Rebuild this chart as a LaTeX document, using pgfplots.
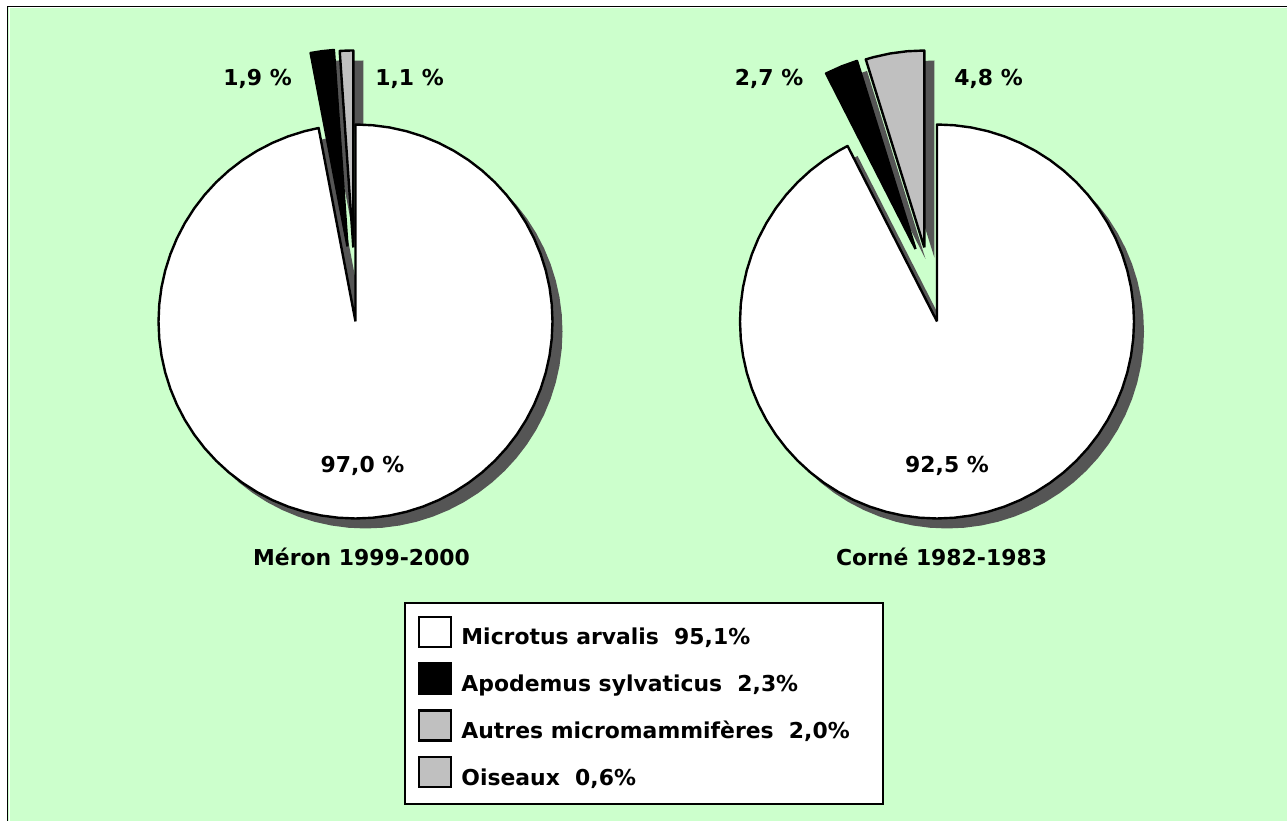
\documentclass[border=0pt]{standalone}
\usepackage{pgfplots}
\pgfplotsset{compat=1.18}
\usepackage{pgfplotstable}
\usepackage{fontspec}
\setmainfont{DejaVu Sans}
\definecolor{bgreen}{RGB}{204,255,204}
\definecolor{shad}{RGB}{85,85,85}
\definecolor{pgray}{RGB}{192,192,192}
\newcommand\lbl{\fontsize{21.9}{26}\selectfont\bfseries}

% Méron 1999-2000 : 97,0 % / 1,9 % / 1,1 %  (angles in degrees, radius 197)
\pgfplotstableread[row sep=\\]{a r\\ 0 0\\ 100.8 197\\ 105 197\\ 110 197\\ 115 197\\ 120 197\\ 125 197\\ 130 197\\ 135 197\\ 140 197\\ 145 197\\ 150 197\\ 155 197\\ 160 197\\ 165 197\\ 170 197\\ 175 197\\ 180 197\\ 185 197\\ 190 197\\ 195 197\\ 200 197\\ 205 197\\ 210 197\\ 215 197\\ 220 197\\ 225 197\\ 230 197\\ 235 197\\ 240 197\\ 245 197\\ 250 197\\ 255 197\\ 260 197\\ 265 197\\ 270 197\\ 275 197\\ 280 197\\ 285 197\\ 290 197\\ 295 197\\ 300 197\\ 305 197\\ 310 197\\ 315 197\\ 320 197\\ 325 197\\ 330 197\\ 335 197\\ 340 197\\ 345 197\\ 350 197\\ 355 197\\ 360 197\\ 365 197\\ 370 197\\ 375 197\\ 380 197\\ 385 197\\ 390 197\\ 395 197\\ 400 197\\ 405 197\\ 410 197\\ 415 197\\ 420 197\\ 425 197\\ 430 197\\ 435 197\\ 440 197\\ 445 197\\ 450 197\\ 0 0\\}\merW
\pgfplotstableread[row sep=\\]{a r\\ 0 0\\ 93.96 197\\ 97.4 197\\ 100.8 197\\ 0 0\\}\merB
\pgfplotstableread[row sep=\\]{a r\\ 0 0\\ 90 197\\ 92 197\\ 93.96 197\\ 0 0\\}\merG

% Corné 1982-1983 : 92,5 % / 2,7 % / 4,8 %
\pgfplotstableread[row sep=\\]{a r\\ 0 0\\ 117 197\\ 120 197\\ 125 197\\ 130 197\\ 135 197\\ 140 197\\ 145 197\\ 150 197\\ 155 197\\ 160 197\\ 165 197\\ 170 197\\ 175 197\\ 180 197\\ 185 197\\ 190 197\\ 195 197\\ 200 197\\ 205 197\\ 210 197\\ 215 197\\ 220 197\\ 225 197\\ 230 197\\ 235 197\\ 240 197\\ 245 197\\ 250 197\\ 255 197\\ 260 197\\ 265 197\\ 270 197\\ 275 197\\ 280 197\\ 285 197\\ 290 197\\ 295 197\\ 300 197\\ 305 197\\ 310 197\\ 315 197\\ 320 197\\ 325 197\\ 330 197\\ 335 197\\ 340 197\\ 345 197\\ 350 197\\ 355 197\\ 360 197\\ 365 197\\ 370 197\\ 375 197\\ 380 197\\ 385 197\\ 390 197\\ 395 197\\ 400 197\\ 405 197\\ 410 197\\ 415 197\\ 420 197\\ 425 197\\ 430 197\\ 435 197\\ 440 197\\ 445 197\\ 450 197\\ 0 0\\}\corW
\pgfplotstableread[row sep=\\]{a r\\ 0 0\\ 107.28 197\\ 112 197\\ 117 197\\ 0 0\\}\corB
\pgfplotstableread[row sep=\\]{a r\\ 0 0\\ 90 197\\ 95 197\\ 100 197\\ 105 197\\ 107.28 197\\ 0 0\\}\corG

\begin{document}
\begin{tikzpicture}
\path[use as bounding box] (0,0) rectangle (1287pt,820pt);
\draw[line width=1.3pt, fill=bgreen] (7.5pt,813.5pt) rectangle (1310pt,-20pt);
\draw[white, line width=1pt] (9pt,-20pt) -- (9pt,812.2pt) -- (1310pt,812.2pt);
\begin{axis}[
  at={(0pt,0pt)}, anchor=south west,
  width=1287pt, height=820pt, scale only axis,
  xmin=0, xmax=1287, ymin=0, ymax=820,
  hide axis, clip=false,
  legend image code/.code={\draw[#1, line width=2.3pt] (0pt,-13pt) rectangle (32pt,17pt);},
  legend cell align=left,
  legend style={at={(0.3139,0.2659)}, anchor=north west, draw=black, line width=2.3pt, fill=white,
    inner xsep=13pt, inner ysep=12.5pt, row sep=11.7pt, column sep=9pt, font=\lbl,
    nodes={inner sep=0pt, text height=28pt, text depth=6pt}},
  pie/.style={forget plot, data cs=polar, draw=black, line width=2.4pt, line join=round},
  sh/.style={forget plot, data cs=polar, fill=shad, draw=none},
]
% shadows (offset 10, -10)
\addplot[sh, shift={(365.5pt,488.5pt)}] table[x=a,y=r]{\merW};
\addplot[sh, shift={(357.5pt,563.5pt)}] table[x=a,y=r]{\merB};
\addplot[sh, shift={(363.3pt,562.5pt)}] table[x=a,y=r]{\merG};
\addplot[sh, shift={(947pt,488.5pt)}] table[x=a,y=r]{\corW};
\addplot[sh, shift={(925.5pt,561pt)}] table[x=a,y=r]{\corB};
\addplot[sh, shift={(934.3pt,562.5pt)}] table[x=a,y=r]{\corG};
% slices
\addplot[pie, fill=white, shift={(355.5pt,498.5pt)}] table[x=a,y=r]{\merW};
\addplot[pie, fill=black, shift={(347.5pt,573.5pt)}] table[x=a,y=r]{\merB};
\addplot[pie, fill=pgray, shift={(353.3pt,572.5pt)}] table[x=a,y=r]{\merG};
\addplot[pie, fill=white, shift={(937pt,498.5pt)}] table[x=a,y=r]{\corW};
\addplot[pie, fill=black, shift={(915.5pt,571pt)}] table[x=a,y=r]{\corB};
\addplot[pie, fill=pgray, shift={(924.3pt,572.5pt)}] table[x=a,y=r]{\corG};
% labels
\node[anchor=base, inner sep=0pt, font=\lbl] at (axis cs:257.5,734) {1,9 \%};
\node[anchor=base, inner sep=0pt, font=\lbl] at (axis cs:409.5,734) {1,1 \%};
\node[anchor=base, inner sep=0pt, font=\lbl] at (axis cs:769,734) {2,7 \%};
\node[anchor=base, inner sep=0pt, font=\lbl] at (axis cs:988.5,734) {4,8 \%};
\node[anchor=base, inner sep=0pt, font=\lbl] at (axis cs:362.5,347) {97,0 \%};
\node[anchor=base, inner sep=0pt, font=\lbl] at (axis cs:947,347) {92,5 \%};
\node[anchor=base, inner sep=0pt, font=\lbl] at (axis cs:361.5,254) {Méron 1999-2000};
\node[anchor=base, inner sep=0pt, font=\lbl] at (axis cs:941.5,254) {Corné 1982-1983};
% legend
\addlegendimage{draw=black, fill=white}
\addlegendentry{Microtus arvalis~~95,1\%}
\addlegendimage{draw=black, fill=black}
\addlegendentry{Apodemus sylvaticus~~2,3\%}
\addlegendimage{draw=black, fill=pgray}
\addlegendentry{Autres micromammifères~~2,0\%\hspace*{20pt}}
\addlegendimage{draw=black, fill=pgray}
\addlegendentry{Oiseaux~~0,6\%}
\end{axis}
\end{tikzpicture}
\end{document}
